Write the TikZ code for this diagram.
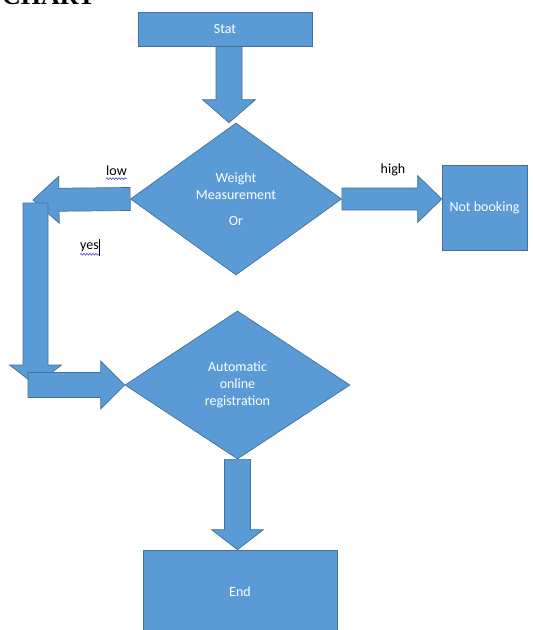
\documentclass[tikz,border=0pt]{standalone}
\usepackage{fontspec}
\setmainfont{Carlito}
\newfontfamily\serifb{Liberation Serif}
\usetikzlibrary{shapes.geometric,calc,decorations.pathmorphing}
\definecolor{fillblue}{HTML}{5B9BD5}
\definecolor{edgeblue}{HTML}{41719C}
\definecolor{spellblue}{HTML}{4B4BC8}
\pgfdeclarelayer{bg}
\pgfsetlayers{bg,main}
\tikzset{
  shapebase/.style={fill=fillblue, draw=edgeblue, line width=0.7pt, text=white, inner sep=0pt,
    font=\fontsize{14}{17}\selectfont, align=center},
  boxnode/.style={shapebase, rectangle},
  decnode/.style={shapebase, diamond},
  barrow/.style={fill=fillblue, draw=edgeblue, line width=0.7pt, line join=miter},
  lbl/.style={text=black, inner sep=0pt, font=\fontsize{14}{17}\selectfont},
  spell/.style={draw=spellblue, line width=0.6pt, decorate,
    decoration={snake, amplitude=0.9pt, segment length=3pt}},
}
% block arrow: from, to, shaft half width, head half width, head length
\newcommand\blockarrow[5]{%
  \coordinate (ba-h) at ($(#2)!#5!(#1)$);
  \draw[barrow] ($(#1)!#3!90:(#2)$) -- ($(ba-h)!#3!90:(#2)$) -- ($(ba-h)!#4!90:(#2)$)
    -- (#2) -- ($(ba-h)!#4!-90:(#2)$) -- ($(ba-h)!#3!-90:(#2)$) -- ($(#1)!#3!-90:(#2)$) -- cycle;
}
\begin{document}
\begin{tikzpicture}[x=1pt, y=-1pt]
\useasboundingbox (0,0) rectangle (533,630);

\node[anchor=base west, inner sep=0pt, font=\serifb\bfseries\fontsize{26}{26}\selectfont] (title) at (2,4) {CHART};

\node[boxnode, minimum width=174pt, minimum height=34pt] (stat) at (225,29) {Stat};
\node[decnode, minimum width=211pt, minimum height=152pt] (d1) at (236,199)
  {Weight\\Measurement\\[9pt]Or};
\node[boxnode, minimum width=85pt, minimum height=85pt] (nb) at (484.5,207.5) {Not booking};
\node[decnode, minimum width=225pt, minimum height=148pt] (d2) at (237.5,385)
  {Automatic\\online\\registration};
\node[boxnode, minimum width=194pt, minimum height=84pt] (end) at (240,592) {End};

\coordinate (s1) at ($(stat.south)+(4,0)$);
\coordinate (s1e) at (s1 |- d1.north);
\coordinate (lowtip) at (33,200);
\coordinate (vtop) at (35.5,203);
\coordinate (vbot) at (35.5,385);
\coordinate (hstart) at (28,385);
\coordinate (hie) at (d1.east -| nb.west);
\coordinate (ende) at (d2.south |- end.north);

\begin{pgfonlayer}{bg}
  \fill[white] (0,0) rectangle (533,630);
  \blockarrow{s1}{s1e}{13pt}{26.5pt}{23pt}
  \blockarrow{d1.west}{lowtip}{11.5pt}{23.5pt}{26pt}
  \blockarrow{vtop}{vbot}{12.5pt}{26pt}{20pt}
  \blockarrow{hstart}{d2.west}{12.5pt}{24pt}{24pt}
  \blockarrow{d1.east}{hie}{11pt}{23.5pt}{24pt}
  \blockarrow{d2.south}{ende}{13pt}{26pt}{20pt}
\end{pgfonlayer}

\node[lbl] (low) at (116.5,171) {low};
\node[lbl] (high) at (393,170) {high};
\node[lbl] (yes) at (89.5,247) {yes};
\draw[spell] (low.south west) ++(0,2.5) -- ++(21,0);
\draw[spell] (yes.south west) ++(0,2.5) -- ++(19,0);
\draw[black, line width=0.8pt] ($(yes.east)+(0.8,-8)$) -- ++(0,17);
\end{tikzpicture}
\end{document}
